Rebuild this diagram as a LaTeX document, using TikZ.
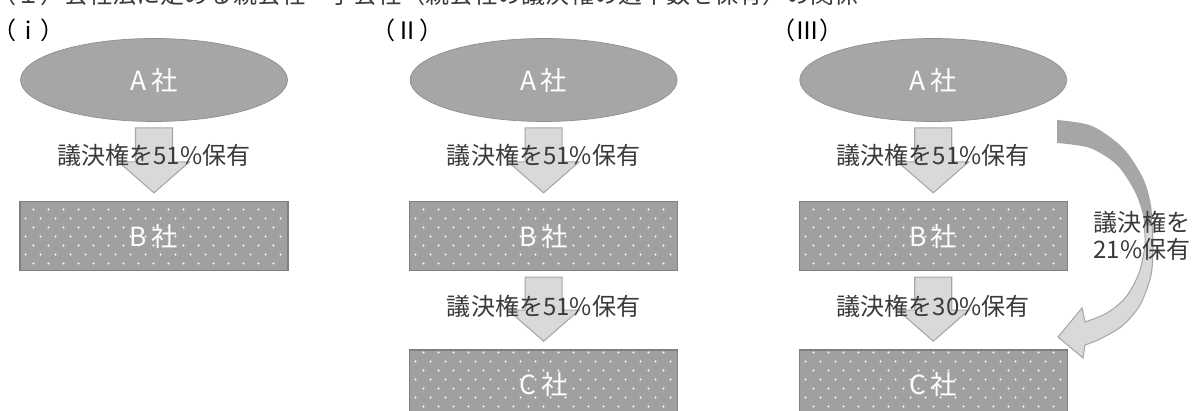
\documentclass[tikz,border=0pt]{standalone}
\usepackage{fontspec}
\setmainfont{Noto Sans CJK JP}
\usetikzlibrary{shapes.geometric,positioning,calc,patterns}

\definecolor{ellfill}{HTML}{A6A6A6}
\definecolor{ellline}{HTML}{8F8F8F}
\definecolor{boxfill}{HTML}{A0A0A0}
\definecolor{boxline}{HTML}{808080}
\definecolor{arrfill}{HTML}{D9D9D9}
\definecolor{arrline}{HTML}{A6A6A6}
\definecolor{labeltext}{HTML}{3A3A3A}

\pgfdeclarepatternformonly{sparsedots}{\pgfpointorigin}{\pgfqpoint{8.54pt}{10.24pt}}{\pgfqpoint{8.54pt}{10.24pt}}{%
  \pgfpathcircle{\pgfqpoint{2.13pt}{2.56pt}}{0.65pt}%
  \pgfpathcircle{\pgfqpoint{6.4pt}{7.68pt}}{0.65pt}%
  \pgfusepath{fill}}

\newcommand{\holdarrow}[2]{%
  \draw[blockarrow] ($(#1.south)+(-18.5,6)$) -- ($(#1.south)+(18.5,6)$)
    -- ($(#2.north)+(18.5,-39)$) -- ($(#2.north)+(35.5,-39)$)
    -- ($(#2.north)+(0,-8)$) -- ($(#2.north)+(-35.5,-39)$)
    -- ($(#2.north)+(-18.5,-39)$) -- cycle;}

\begin{document}
\begin{tikzpicture}[
            x=0.02cm, y=-0.02cm,
            parent/.style={ellipse, draw=ellline, fill=ellfill, inner sep=0pt, minimum width=5.34cm, minimum height=1.66cm, text=white, font=\fontsize{15}{16}\selectfont},
            company/.style={rectangle, draw=boxline, line width=0.8pt, preaction={fill=boxfill}, pattern=sparsedots, pattern color=white, inner sep=0pt, minimum width=5.36cm, minimum height=1.38cm, text=white, font=\fontsize{15}{16}\selectfont},
            blockarrow/.style={draw=arrline, fill=arrfill, line width=0.6pt},
            holdlabel/.style={text=labeltext, inner sep=0pt, align=center, font=\fontsize{13.7}{15.4}\selectfont},
            heading/.style={anchor=west, text=black, inner sep=0pt, font=\fontsize{13.7}{15.4}\selectfont}
        ]
            \useasboundingbox (0,0) rectangle (1193,411);

            \node[heading, text=labeltext] (title) at (-8,-6) {（１）会社法に定める親会社・子会社（親会社の議決権の過半数を保有）の関係};
            \node[heading] (h1) at (-8,30) {（ⅰ）};
            \node[heading] (h2) at (371,30) {（Ⅱ）};
            \node[heading] (h3) at (771,30) {（Ⅲ）};

            \node[parent] (A1) at (154,80) {A\,社};
            \node[parent, right=2.44cm of A1] (A2) {A\,社};
            \node[parent, right=2.44cm of A2] (A3) {A\,社};

            \node[company, below=1.58cm of A1] (B1) {B\,社};
            \node[company, below=1.58cm of A2] (B2) {B\,社};
            \node[company, below=1.58cm of A3] (B3) {B\,社};
            \node[company, below=1.56cm of B2] (C2) {C\,社};
            \node[company, below=1.56cm of B3] (C3) {C\,社};

            \holdarrow{A1}{B1}
            \holdarrow{A2}{B2}
            \holdarrow{A3}{B3}
            \holdarrow{B2}{C2}
            \holdarrow{B3}{C3}

            \node[holdlabel] (l1) at ($(A1.south)!0.42!(B1.north)$) {議決権を51\%保有};
            \node[holdlabel] (l2) at ($(A2.south)!0.42!(B2.north)$) {議決権を51\%保有};
            \node[holdlabel] (l3) at ($(A3.south)!0.42!(B3.north)$) {議決権を51\%保有};
            \node[holdlabel] (l4) at ($(B2.south)!0.45!(C2.north)$) {議決権を51\%保有};
            \node[holdlabel] (l5) at ($(B3.south)!0.45!(C3.north)$) {議決権を30\%保有};

            % curved arrow A -> C
            \fill[ellfill] plot[smooth] coordinates {(1057,120) (1092,126) (1123,148) (1143,178) (1151,205) (1152,226)}
                -- plot[smooth] coordinates {(1144,226) (1143,215) (1135,192) (1117,165) (1090,148) (1057,143)} -- cycle;
            \draw[blockarrow] plot[smooth] coordinates {(1152,225) (1153,245) (1151,275) (1140,305) (1122,326) (1100,339) (1085,345)}
                -- (1083,358) -- (1058,337) -- (1082,308) -- (1085,322)
                -- plot[smooth] coordinates {(1085,322) (1107,313) (1126,297) (1139,273) (1145,245) (1144,225)} -- cycle;
            \node[holdlabel] (l6) at (1142,236) {議決権を\\21\%保有};
        \end{tikzpicture}
\end{document}
